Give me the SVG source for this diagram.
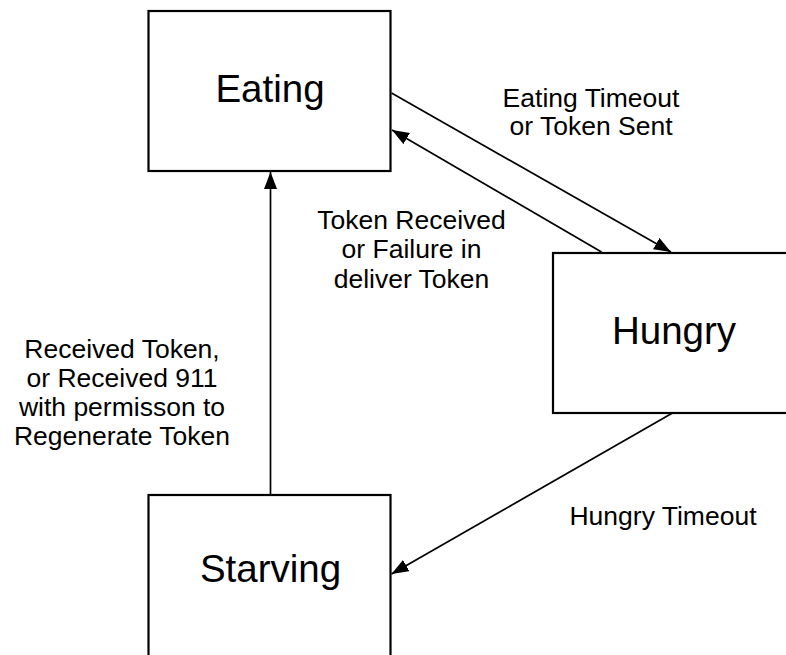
<svg xmlns="http://www.w3.org/2000/svg" width="786" height="655" viewBox="0 0 786 655">
<style>
.box{fill:#fff;stroke:#000;stroke-width:2.2}
.name{font-family:"Liberation Sans",Arial,sans-serif;font-size:38.5px;text-anchor:middle;fill:#000}
.lbl{font-family:"Liberation Sans",Arial,sans-serif;font-size:26.5px;text-anchor:middle;fill:#000}
.edge{stroke:#000;stroke-width:1.7;fill:none;marker-end:url(#ah)}
</style>
<defs>
<marker id="ah" markerUnits="userSpaceOnUse" markerWidth="18" markerHeight="13" refX="17" refY="6.5" orient="auto" viewBox="0 0 18 13">
<path d="M0,0 L17,6.5 L0,13 z" fill="#000"/>
</marker>
</defs>
<rect width="786" height="655" fill="#fff"/>
<g id="eating">
<rect class="box" x="148.5" y="11" width="242" height="160"/>
<text class="name" x="270" y="102">Eating</text>
</g>
<g id="hungry">
<rect class="box" x="553" y="253" width="242" height="160"/>
<text class="name" x="674" y="344">Hungry</text>
</g>
<g id="starving">
<rect class="box" x="148.5" y="495" width="242" height="170"/>
<text class="name" x="270.5" y="582">Starving</text>
</g>
<g id="connectors">
<line class="edge" x1="391.5" y1="93" x2="671" y2="252"/>
<line class="edge" x1="601.5" y1="252" x2="392" y2="130"/>
<line class="edge" x1="672.5" y1="413" x2="391.5" y2="574"/>
<line class="edge" x1="270.5" y1="494" x2="270.5" y2="172"/>
</g>
<g id="labels">
<text class="lbl" x="591" y="107">Eating Timeout</text>
<text class="lbl" x="591" y="135">or Token Sent</text>
<text class="lbl" x="411.5" y="229">Token Received</text>
<text class="lbl" x="411.5" y="258">or Failure in</text>
<text class="lbl" x="411.5" y="288">deliver Token</text>
<text class="lbl" x="122" y="358">Received Token,</text>
<text class="lbl" x="122" y="387">or Received 911</text>
<text class="lbl" x="122" y="416">with permisson to</text>
<text class="lbl" x="122" y="445">Regenerate Token</text>
<text class="lbl" x="663" y="525">Hungry Timeout</text>
</g>
</svg>
